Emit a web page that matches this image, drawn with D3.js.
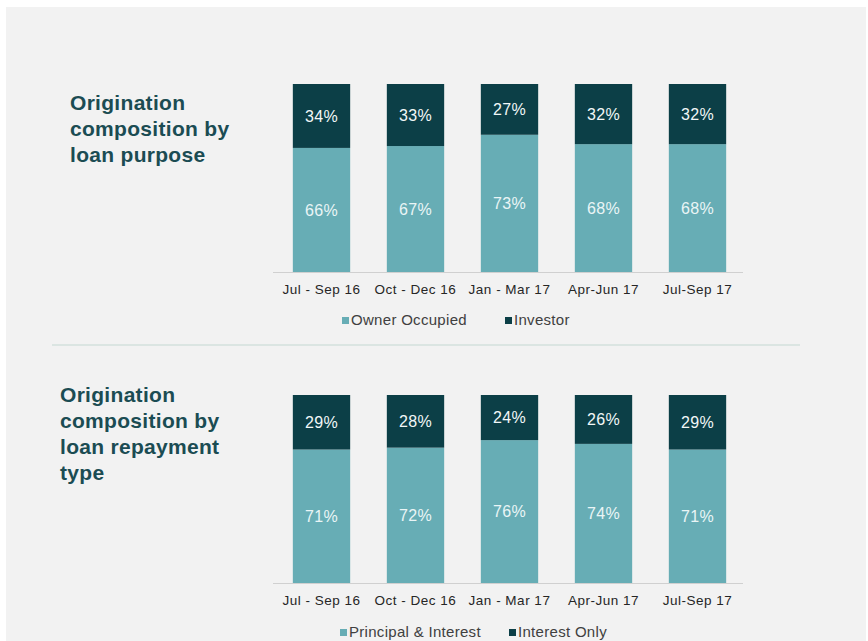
<!DOCTYPE html>
<html lang="en">
<head>
    <meta charset="UTF-8">
    <title>Origination composition</title>
    <script src="https://d3js.org/d3.v7.min.js"></script>
    <style>
        body { margin: 0; background: #fff; }
        svg { display: block; font-family: "Liberation Sans", Arial, sans-serif; }
        .title { font-weight: bold; fill: #1b4c53; font-size: 21px; letter-spacing: 0.3px; }
        .tick text { font-size: 13.5px; fill: #262626; letter-spacing: 0.5px; }
        .legend text { font-size: 15px; fill: #404040; letter-spacing: 0.3px; }
        .pct { font-size: 16px; letter-spacing: 0.4px; }
    </style>
</head>
<body>
    <svg id="chart" width="868" height="641"></svg>
    <script>
        const quarters = ["Jul - Sep 16", "Oct - Dec 16", "Jan - Mar 17", "Apr-Jun 17", "Jul-Sep 17"];

        const ownerOccupied = [66, 67, 73, 68, 68];
        const investor = [34, 33, 27, 32, 32];

        const principalInterest = [71, 72, 76, 74, 71];
        const interestOnly = [29, 28, 24, 26, 29];

        const lightTeal = "#67adb5";
        const darkTeal = "#0c3f47";

        const svg = d3.select("#chart");

        svg.append("rect")
            .attr("x", 6).attr("y", 7)
            .attr("width", 860).attr("height", 634)
            .attr("fill", "#f2f2f2");

        // divider between the two panels
        svg.append("rect")
            .attr("x", 52).attr("y", 344)
            .attr("width", 748).attr("height", 2)
            .attr("fill", "#dbe5e2");

        const x = d3.scaleBand()
            .domain(quarters)
            .range([274.5, 744.5])
            .paddingInner(0.39)
            .paddingOuter(0.195);

        function drawPanel(cfg) {
            const g = svg.append("g");

            const y = d3.scaleLinear().domain([0, 100]).range([cfg.base, cfg.base - 188]);

            const t = g.append("text").attr("class", "title")
                .attr("x", cfg.titleX).attr("y", cfg.titleY);
            cfg.title.forEach((line, i) => {
                t.append("tspan").attr("x", cfg.titleX).attr("dy", i === 0 ? 0 : 26).text(line);
            });

            const rows = quarters.map((q, i) => ({ q, low: cfg.lower[i], high: cfg.upper[i] }));

            const bars = g.selectAll(".bar").data(rows).enter().append("g");

            bars.append("rect")
                .attr("x", d => x(d.q))
                .attr("width", x.bandwidth())
                .attr("y", d => y(d.low))
                .attr("height", d => y(0) - y(d.low))
                .attr("fill", lightTeal);

            bars.append("rect")
                .attr("x", d => x(d.q))
                .attr("width", x.bandwidth())
                .attr("y", d => y(d.low + d.high))
                .attr("height", d => y(d.low) - y(d.low + d.high))
                .attr("fill", darkTeal);

            bars.append("text").attr("class", "pct")
                .attr("x", d => x(d.q) + x.bandwidth() / 2)
                .attr("y", d => y(d.low / 2))
                .attr("dy", "0.35em")
                .attr("text-anchor", "middle")
                .attr("fill", "#eaf5f6")
                .text(d => d.low + "%");

            bars.append("text").attr("class", "pct")
                .attr("x", d => x(d.q) + x.bandwidth() / 2)
                .attr("y", d => y(d.low + d.high / 2))
                .attr("dy", "0.35em")
                .attr("text-anchor", "middle")
                .attr("fill", "#f2f7f7")
                .text(d => d.high + "%");

            const axis = g.append("g")
                .attr("transform", `translate(0,${cfg.base})`)
                .call(d3.axisBottom(x).tickSize(0).tickPadding(12));
            axis.select(".domain").attr("stroke", "#d0d0d0").attr("d", "M273,0.5H743");

            const legend = g.append("g").attr("class", "legend");
            cfg.legend.forEach((item, i) => {
                legend.append("rect")
                    .attr("x", item.x).attr("y", cfg.legendY - 3)
                    .attr("width", 7).attr("height", 7)
                    .attr("fill", item.color);
                legend.append("text")
                    .attr("x", item.x + 9).attr("y", cfg.legendY)
                    .attr("dy", "0.35em")
                    .text(item.label);
            });
        }

        drawPanel({
            title: ["Origination", "composition by", "loan purpose"],
            titleX: 70, titleY: 110,
            base: 272,
            lower: ownerOccupied, upper: investor,
            legendY: 320,
            legend: [
                { label: "Owner Occupied", color: lightTeal, x: 342 },
                { label: "Investor", color: darkTeal, x: 505 }
            ]
        });

        drawPanel({
            title: ["Origination", "composition by", "loan repayment", "type"],
            titleX: 60, titleY: 402,
            base: 583,
            lower: principalInterest, upper: interestOnly,
            legendY: 632,
            legend: [
                { label: "Principal & Interest", color: lightTeal, x: 340 },
                { label: "Interest Only", color: darkTeal, x: 509 }
            ]
        });
    </script>
</body>
</html>
